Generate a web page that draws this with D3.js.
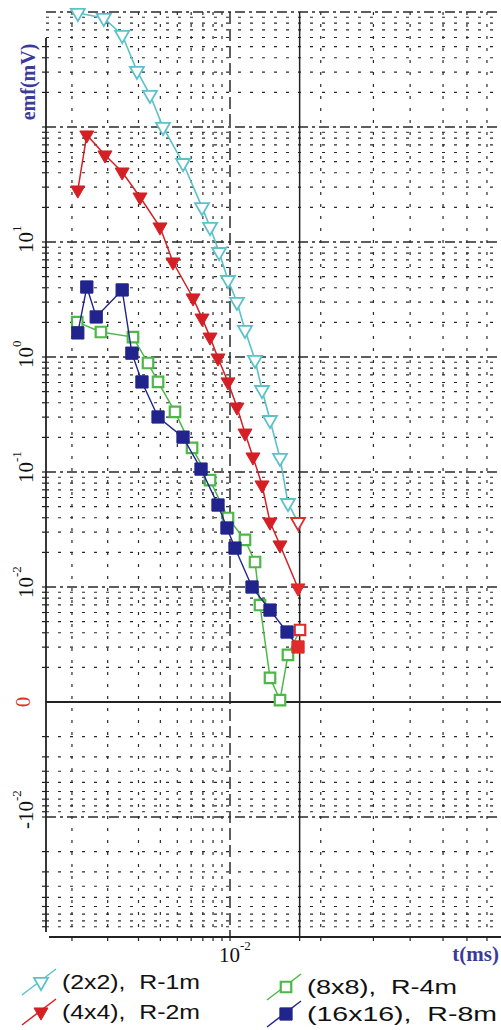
<!DOCTYPE html>
<html>
<head>
<meta charset="utf-8">
<script src="https://cdn.jsdelivr.net/npm/d3@7"></script>
<style>
  body { margin: 0; background: #fff; }
  svg { display: block; }
</style>
</head>
<body>
<svg id="chart" width="501" height="1030"></svg>
<script>
// ---- data: gate time t (ms) and measured emf (mV) for each loop size ----
const tCyan = [0.00135, 0.00190, 0.00242, 0.00294, 0.00349, 0.00414, 0.00539, 0.00692, 0.00769, 0.00866, 0.00974, 0.01096, 0.01218, 0.01390, 0.01524, 0.01693, 0.01931, 0.02144, 0.02447];
const vCyan = [980, 887, 631, 307, 190, 100, 48.6, 20.1, 13.5, 8.18, 4.67, 3.01, 1.72, 0.942, 0.516, 0.283, 0.1325, 0.0537, 0.0367];

const tRed = [0.00135, 0.00152, 0.00193, 0.00242, 0.00306, 0.00398, 0.00472, 0.00615, 0.00692, 0.00769, 0.00854, 0.00974, 0.01096, 0.01218, 0.01353, 0.01524, 0.01693, 0.01931, 0.02447];
const vRed = [28.3, 85.2, 57.1, 40.6, 24.6, 13.5, 6.70, 3.26, 2.18, 1.49, 0.98, 0.607, 0.367, 0.218, 0.135, 0.0771, 0.0367, 0.0232, 0.0098];

const tGreen = [0.00134, 0.00183, 0.00279, 0.00340, 0.00388, 0.00485, 0.00607, 0.00769, 0.00974, 0.01218, 0.01390, 0.01484, 0.01693, 0.01931, 0.02144, 0.02512];
const vGreen = [2.01, 1.65, 1.49, 0.887, 0.607, 0.333, 0.162, 0.0851, 0.0398, 0.0257, 0.0165, 0.00697, 0.00162, 0.00104, 0.00257, 0.00423];

const tBlue = [0.00135, 0.00152, 0.00172, 0.00242, 0.00275, 0.00314, 0.00388, 0.00539, 0.00683, 0.00854, 0.00961, 0.01068, 0.01336, 0.01693, 0.02118, 0.02447];
const vBlue = [1.62, 4.06, 2.23, 3.83, 1.08, 0.607, 0.301, 0.201, 0.106, 0.0516, 0.0326, 0.0218, 0.0100, 0.0063, 0.00406, 0.00301];

const seriesNames = ["(2x2),  R-1m", "(4x4),  R-2m", "(8x8),  R-4m", "(16x16),  R-8m"];

// axis labels
const yLabelValues = [10, 1, 0.1, 0.01, 0, -0.01];
const yLabelBase   = ["10", "10", "10", "10", "0", "-10"];
const yLabelExp    = ["1", "0", "-1", "-2", "", "-2"];
const xLabelValues = [0.01];
const xLabelBase   = ["10"];
const xLabelExp    = ["-2"];

// vertical grid positions (ms)
const xMinorGrid = [0.00125, 0.002, 0.003, 0.004, 0.005, 0.006, 0.007, 0.008, 0.009, 0.033, 0.066, 0.107, 0.165, 0.226, 0.294];
const xMajorGrid = [0.01];
const xMarkLine  = [0.025];

// ---- layout ----
const plotLeft = 46, plotRight = 501, plotTop = 12, zeroY = 702, plotBottom = 937;

const svg = d3.select("#chart");

const x = d3.scaleLog().domain([1e-3, 1e-2]).range([55, 230]);
// positive branch: 1e-3 sits on the zero line, up to 1e3 at the top
const yPos = d3.scaleLog().domain([1e-3, 1e3]).range([zeroY, plotTop]);
// negative branch, mirrored below the zero line
const yNeg = d3.scaleLog().domain([1e-3, 1e-1]).range([zeroY, zeroY + 2 * (zeroY - plotTop) / 6]);
function y(v) {
  if (v >= 1e-3) return yPos(v);
  if (v <= -1e-3) return yNeg(-v);
  return zeroY;
}

const gridColor = "#2a2a2a";
const g = svg.append("g");

// horizontal grid
const posTicks = yPos.ticks();
const negTicks = yNeg.ticks();
function isDecade(v) { const l = Math.log10(Math.abs(v)); return Math.abs(l - Math.round(l)) < 1e-9; }

posTicks.filter(v => v > 1e-3).forEach(v => {
  const major = isDecade(v);
  g.append("line")
    .attr("x1", plotLeft).attr("x2", plotRight)
    .attr("y1", y(v)).attr("y2", y(v))
    .attr("stroke", gridColor).attr("stroke-width", major ? 1.4 : 1.2)
    .attr("stroke-dasharray", major ? "10,4,3,4" : "3,9");
});
negTicks.filter(v => v > 1e-3 && v < 1e-1).forEach(v => {
  const major = isDecade(v);
  g.append("line")
    .attr("x1", plotLeft).attr("x2", plotRight)
    .attr("y1", y(-v)).attr("y2", y(-v))
    .attr("stroke", gridColor).attr("stroke-width", major ? 1.4 : 1.2)
    .attr("stroke-dasharray", major ? "10,4,3,4" : "3,9");
});

// vertical grid
xMinorGrid.forEach(t => {
  g.append("line")
    .attr("x1", x(t)).attr("x2", x(t)).attr("y1", plotTop).attr("y2", plotBottom)
    .attr("stroke", gridColor).attr("stroke-width", 1.2)
    .attr("stroke-dasharray", "3,9");
});
xMajorGrid.forEach(t => {
  g.append("line")
    .attr("x1", x(t)).attr("x2", x(t)).attr("y1", plotTop).attr("y2", plotBottom)
    .attr("stroke", gridColor).attr("stroke-width", 1.5)
    .attr("stroke-dasharray", "12,5");
});
xMarkLine.forEach(t => {
  g.append("line")
    .attr("x1", x(t)).attr("x2", x(t)).attr("y1", plotTop).attr("y2", plotBottom)
    .attr("stroke", "#222").attr("stroke-width", 1.5);
});

// axes
const ax = svg.append("g").attr("stroke", "#222").attr("stroke-width", 1.8);
ax.append("line").attr("x1", plotLeft).attr("x2", plotLeft).attr("y1", 38).attr("y2", plotBottom - 5);
ax.append("line").attr("x1", plotLeft + 3).attr("x2", plotRight).attr("y1", plotBottom).attr("y2", plotBottom);
ax.append("line").attr("x1", plotLeft).attr("x2", plotRight).attr("y1", zeroY).attr("y2", zeroY);

// small ticks on the left axis and the bottom axis
const tk = svg.append("g").attr("stroke", "#222").attr("stroke-width", 1.2);
posTicks.filter(v => v > 1e-3 && y(v) > 38).forEach(v => tk.append("line").attr("x1", plotLeft - 4).attr("x2", plotLeft).attr("y1", y(v)).attr("y2", y(v)));
negTicks.filter(v => v > 1e-3 && v < 1e-1).forEach(v => tk.append("line").attr("x1", plotLeft - 4).attr("x2", plotLeft).attr("y1", y(-v)).attr("y2", y(-v)));
xMinorGrid.concat(xMajorGrid, xMarkLine).forEach(t => tk.append("line").attr("x1", x(t)).attr("x2", x(t)).attr("y1", plotBottom).attr("y2", plotBottom + 4));

// y tick labels (rotated, reading upward)
const serif = "'Liberation Serif', 'Times New Roman', serif";
yLabelValues.forEach((v, i) => {
  const yy = y(v);
  const isZero = yLabelBase[i] === "0";
  const txt = svg.append("text")
    .attr("transform", `translate(${isZero ? 30 : 33},${isZero ? yy : yy + (yLabelBase[i].length > 2 ? 12 : 11)}) rotate(-90)`)
    .attr("text-anchor", isZero ? "middle" : "start")
    .attr("font-family", serif).attr("font-size", 21)
    .attr("fill", isZero ? "#e0302a" : "#111");
  txt.append("tspan").text(yLabelBase[i]);
  if (yLabelExp[i]) txt.append("tspan").attr("font-size", 13).attr("dy", -12).text(yLabelExp[i]);
});

// x tick label
xLabelValues.forEach((t, i) => {
  const txt = svg.append("text")
    .attr("x", x(t) - 11).attr("y", 962)
    .attr("font-family", serif).attr("font-size", 21).attr("fill", "#111");
  txt.append("tspan").text(xLabelBase[i]);
  txt.append("tspan").attr("font-size", 13).attr("dy", -12).text(xLabelExp[i]);
});

// axis titles
const titleColor = "#3b3b9b";
svg.append("text")
  .attr("transform", "translate(35,82) rotate(-90)")
  .attr("text-anchor", "middle")
  .attr("font-family", serif).attr("font-weight", "bold").attr("font-size", 20)
  .attr("fill", titleColor).text("emf(mV)");
svg.append("text")
  .attr("x", 499).attr("y", 961).attr("text-anchor", "end")
  .attr("font-family", serif).attr("font-weight", "bold").attr("font-size", 21)
  .attr("fill", titleColor).text("t(ms)");

// ---- series ----
const hiColor = "#e12a2a";
const triDown = d3.symbol().type(d3.symbolTriangle).size(85);
const square = d3.symbol().type(d3.symbolSquare);

const series = [
  { t: tCyan, v: vCyan, color: "#5cc2ca", shape: "tri", filled: false, width: 1.6 },
  { t: tRed, v: vRed, color: "#d42025", shape: "tri", filled: true, width: 1.5 },
  { t: tGreen, v: vGreen, color: "#4cb847", shape: "sq", filled: false, width: 1.5 },
  { t: tBlue, v: vBlue, color: "#21248c", shape: "sq", filled: true, width: 1.4 }
];

function drawMarker(sel, s, cx, cy, color) {
  if (s.shape === "tri") {
    sel.append("path").attr("d", triDown())
      .attr("transform", `translate(${cx},${cy}) rotate(180)`)
      .attr("fill", s.filled ? color : "#fff")
      .attr("stroke", color).attr("stroke-width", s.filled ? 1 : 1.8);
  } else {
    sel.append("path").attr("d", square.size(s.filled ? 150 : 110)())
      .attr("transform", `translate(${cx},${cy})`)
      .attr("fill", s.filled ? color : "#fff")
      .attr("stroke", color).attr("stroke-width", s.filled ? 1 : 2.2);
  }
}

const line = d3.line().x(d => x(d[0])).y(d => y(d[1]));
series.forEach(s => {
  const pts = s.t.map((t, i) => [t, s.v[i]]);
  const sg = svg.append("g");
  sg.append("path").attr("d", line(pts)).attr("fill", "none")
    .attr("stroke", s.color).attr("stroke-width", s.width);
  pts.forEach((p, i) => {
    // the final gate is marked in red
    const c = (i === pts.length - 1) ? hiColor : s.color;
    drawMarker(sg, s, x(p[0]), y(p[1]), c);
  });
});

// ---- legend ----
const sans = "'Liberation Sans', Arial, sans-serif";
const legendPos = [[62, 982], [62, 1012], [307, 987], [307, 1014]];
const legendLen = [138, 138, 150, 190];
series.forEach((s, i) => {
  const [lx, ly] = legendPos[i];
  const lg = svg.append("g");
  lg.append("line")
    .attr("x1", lx - 40).attr("y1", ly + 13)
    .attr("x2", lx - 6).attr("y2", ly - 13)
    .attr("stroke", s.color).attr("stroke-width", 1.5);
  drawMarker(lg, s, lx - 21, ly, s.color);
  lg.append("text").attr("x", lx).attr("y", ly + 7)
    .attr("font-family", sans).attr("font-size", 20).attr("fill", "#111")
    .attr("textLength", legendLen[i]).attr("lengthAdjust", "spacingAndGlyphs")
    .style("white-space", "pre")
    .text(seriesNames[i]);
});
</script>
</body>
</html>
